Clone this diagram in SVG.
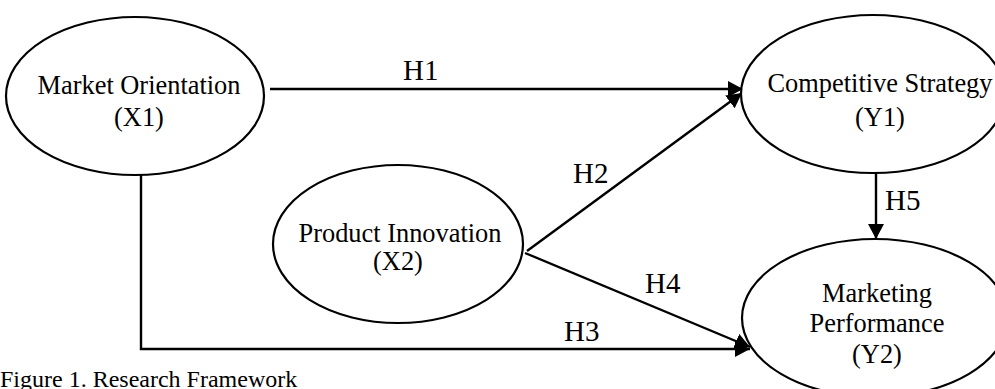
<svg xmlns="http://www.w3.org/2000/svg" width="995" height="389" viewBox="0 0 995 389">
  <style>
    .node ellipse { fill: #ffffff; stroke: #000000; stroke-width: 2.2; }
    .lbl { font-family: "Liberation Serif", "Times New Roman", serif; font-size: 26.4px; fill: #000000; text-anchor: middle; }
    .h { font-family: "Liberation Serif", "Times New Roman", serif; font-size: 29px; fill: #000000; }
    .edge { fill: none; stroke: #000000; stroke-width: 2.4; marker-end: url(#arrow); }
    .cap { font-family: "Liberation Serif", "Times New Roman", serif; font-size: 24px; fill: #000000; }
  </style>
  <defs>
    <marker id="arrow" markerUnits="userSpaceOnUse" markerWidth="17" markerHeight="17" refX="15" refY="8" orient="auto">
      <path d="M0,0 L15,8 L0,16 Z" fill="#000000"/>
    </marker>
  </defs>
  <rect width="995" height="389" fill="#ffffff"/>

  <g id="connectors">
    <path class="edge" d="M270,89 L743,89"/>
    <path class="edge" d="M527,251 L742,93"/>
    <path class="edge" d="M141,175 V349 H750"/>
    <path class="edge" d="M525,253 L750,347"/>
    <path class="edge" d="M876,173 V239"/>
    <text class="h" x="403" y="80">H1</text>
    <text class="h" x="573" y="183">H2</text>
    <text class="h" x="564" y="341">H3</text>
    <text class="h" x="645" y="293">H4</text>
    <text class="h" x="885" y="210">H5</text>
  </g>

  <g id="market-orientation" class="node">
    <ellipse cx="135" cy="96" rx="129" ry="79"/>
    <text class="lbl" x="139" y="94">Market Orientation</text>
    <text class="lbl" x="139" y="126">(X1)</text>
  </g>

  <g id="product-innovation" class="node">
    <ellipse cx="398" cy="244" rx="125" ry="79"/>
    <text class="lbl" x="400" y="242">Product Innovation</text>
    <text class="lbl" x="398" y="270">(X2)</text>
  </g>

  <g id="competitive-strategy" class="node">
    <ellipse cx="873" cy="94" rx="132" ry="79"/>
    <text class="lbl" x="880" y="92">Competitive Strategy</text>
    <text class="lbl" x="880" y="126">(Y1)</text>
  </g>

  <g id="marketing-performance" class="node">
    <ellipse cx="875" cy="318" rx="133" ry="79"/>
    <text class="lbl" x="877" y="302">Marketing</text>
    <text class="lbl" x="877" y="332">Performance</text>
    <text class="lbl" x="877" y="363">(Y2)</text>
  </g>

  <text class="cap" x="0" y="387">Figure 1. Research Framework</text>
</svg>
